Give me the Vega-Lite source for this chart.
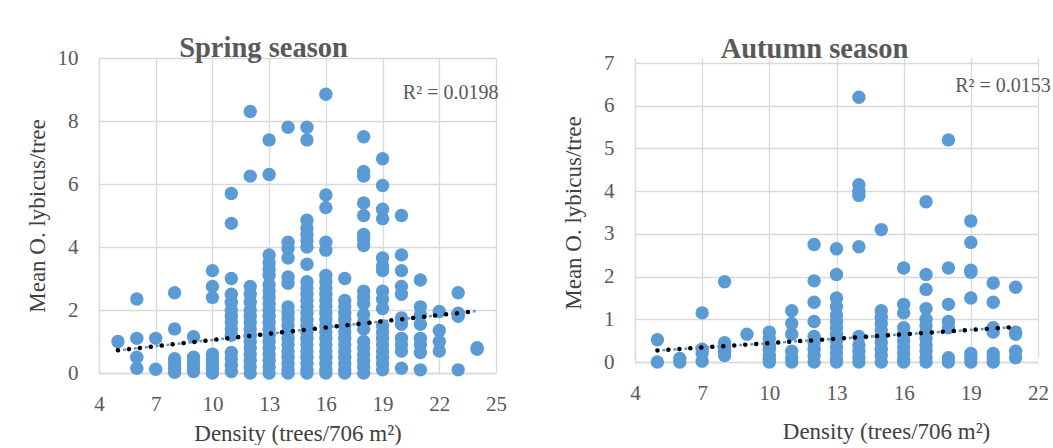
{
  "$schema": "https://vega.github.io/schema/vega-lite/v6.json",
  "background": "white",
  "padding": {"left": 26, "top": 33, "right": 0, "bottom": 0},
  "spacing": 55,
  "config": {
    "font": "Liberation Serif",
    "view": {"stroke": null},
    "axis": {
      "grid": true, "gridColor": "#d9d9d9", "gridWidth": 1.3,
      "domainColor": "#d9d9d9", "domainWidth": 1.3, "ticks": false, "labelFlush": false,
      "labelFont": "Liberation Serif", "labelFontSize": 21, "labelColor": "#595959",
      "titleFont": "Liberation Serif", "titleFontSize": 23, "titleFontWeight": "normal", "titleColor": "#404040"
    },
    "title": {"font": "Liberation Serif", "fontSize": 28.5, "fontWeight": "bold", "color": "#595959"}
  },
  "datasets": {
    "spring": [
      {"x":5,"y":1.0},
      {"x":6,"y":2.35},{"x":6,"y":1.1},{"x":6,"y":0.5},{"x":6,"y":0.15},
      {"x":7,"y":1.1},{"x":7,"y":0.12},
      {"x":8,"y":2.55},{"x":8,"y":1.4},{"x":8,"y":0.45},{"x":8,"y":0.3},{"x":8,"y":0.15},{"x":8,"y":0.02},
      {"x":9,"y":1.15},{"x":9,"y":0.5},{"x":9,"y":0.35},{"x":9,"y":0.2},{"x":9,"y":0.05},
      {"x":10,"y":3.25},{"x":10,"y":2.75},{"x":10,"y":2.4},{"x":10,"y":0.6},{"x":10,"y":0.45},{"x":10,"y":0.3},{"x":10,"y":0.15},{"x":10,"y":0.0},
      {"x":11,"y":5.7},{"x":11,"y":4.75},{"x":11,"y":3.0},{"x":11,"y":2.5},{"x":11,"y":2.25},{"x":11,"y":2.0},{"x":11,"y":1.8},{"x":11,"y":1.6},{"x":11,"y":1.4},{"x":11,"y":1.2},{"x":11,"y":0.65},{"x":11,"y":0.45},{"x":11,"y":0.25},{"x":11,"y":0.05},
      {"x":12,"y":8.3},{"x":12,"y":6.25},{"x":12,"y":2.75},{"x":12,"y":2.5},{"x":12,"y":2.25},{"x":12,"y":2.0},{"x":12,"y":1.8},{"x":12,"y":1.6},{"x":12,"y":1.4},{"x":12,"y":1.2},{"x":12,"y":1.0},{"x":12,"y":0.8},{"x":12,"y":0.6},{"x":12,"y":0.4},{"x":12,"y":0.2},{"x":12,"y":0.0},
      {"x":13,"y":7.4},{"x":13,"y":6.3},{"x":13,"y":3.75},{"x":13,"y":3.5},{"x":13,"y":3.3},{"x":13,"y":3.1},{"x":13,"y":2.8},{"x":13,"y":2.6},{"x":13,"y":2.4},{"x":13,"y":2.2},{"x":13,"y":2.0},{"x":13,"y":1.8},{"x":13,"y":1.6},{"x":13,"y":1.4},{"x":13,"y":1.2},{"x":13,"y":1.0},{"x":13,"y":0.8},{"x":13,"y":0.6},{"x":13,"y":0.4},{"x":13,"y":0.2},{"x":13,"y":0.0},
      {"x":14,"y":7.8},{"x":14,"y":4.15},{"x":14,"y":3.95},{"x":14,"y":3.65},{"x":14,"y":3.05},{"x":14,"y":2.85},{"x":14,"y":2.1},{"x":14,"y":1.9},{"x":14,"y":1.7},{"x":14,"y":1.5},{"x":14,"y":1.3},{"x":14,"y":1.1},{"x":14,"y":0.9},{"x":14,"y":0.7},{"x":14,"y":0.5},{"x":14,"y":0.3},{"x":14,"y":0.1},{"x":14,"y":0.0},
      {"x":15,"y":7.8},{"x":15,"y":7.4},{"x":15,"y":4.85},{"x":15,"y":4.6},{"x":15,"y":4.4},{"x":15,"y":4.2},{"x":15,"y":4.0},{"x":15,"y":3.45},{"x":15,"y":2.9},{"x":15,"y":2.7},{"x":15,"y":2.5},{"x":15,"y":2.3},{"x":15,"y":2.1},{"x":15,"y":1.9},{"x":15,"y":1.7},{"x":15,"y":1.5},{"x":15,"y":1.3},{"x":15,"y":1.1},{"x":15,"y":0.9},{"x":15,"y":0.7},{"x":15,"y":0.5},{"x":15,"y":0.3},{"x":15,"y":0.1},{"x":15,"y":0.0},
      {"x":16,"y":8.85},{"x":16,"y":5.65},{"x":16,"y":5.25},{"x":16,"y":4.15},{"x":16,"y":3.9},{"x":16,"y":3.1},{"x":16,"y":2.9},{"x":16,"y":2.7},{"x":16,"y":2.5},{"x":16,"y":2.3},{"x":16,"y":2.1},{"x":16,"y":1.9},{"x":16,"y":1.7},{"x":16,"y":1.5},{"x":16,"y":1.3},{"x":16,"y":1.1},{"x":16,"y":0.9},{"x":16,"y":0.7},{"x":16,"y":0.5},{"x":16,"y":0.3},{"x":16,"y":0.1},{"x":16,"y":0.0},
      {"x":17,"y":3.0},{"x":17,"y":2.3},{"x":17,"y":2.1},{"x":17,"y":1.9},{"x":17,"y":1.7},{"x":17,"y":1.5},{"x":17,"y":1.3},{"x":17,"y":1.1},{"x":17,"y":0.9},{"x":17,"y":0.7},{"x":17,"y":0.5},{"x":17,"y":0.3},{"x":17,"y":0.1},{"x":17,"y":0.0},
      {"x":18,"y":7.5},{"x":18,"y":6.4},{"x":18,"y":6.25},{"x":18,"y":5.4},{"x":18,"y":5.0},{"x":18,"y":4.4},{"x":18,"y":4.25},{"x":18,"y":4.05},{"x":18,"y":2.6},{"x":18,"y":2.4},{"x":18,"y":2.2},{"x":18,"y":1.85},{"x":18,"y":1.6},{"x":18,"y":1.4},{"x":18,"y":1.0},{"x":18,"y":0.8},{"x":18,"y":0.6},{"x":18,"y":0.4},{"x":18,"y":0.2},{"x":18,"y":0.0},
      {"x":19,"y":6.8},{"x":19,"y":5.95},{"x":19,"y":5.2},{"x":19,"y":4.9},{"x":19,"y":3.65},{"x":19,"y":3.4},{"x":19,"y":3.25},{"x":19,"y":2.6},{"x":19,"y":2.35},{"x":19,"y":2.05},{"x":19,"y":1.5},{"x":19,"y":1.3},{"x":19,"y":1.1},{"x":19,"y":0.9},{"x":19,"y":0.7},{"x":19,"y":0.5},{"x":19,"y":0.3},{"x":19,"y":0.1},
      {"x":20,"y":5.0},{"x":20,"y":3.75},{"x":20,"y":3.25},{"x":20,"y":2.75},{"x":20,"y":2.5},{"x":20,"y":1.75},{"x":20,"y":1.55},{"x":20,"y":1.1},{"x":20,"y":0.9},{"x":20,"y":0.7},{"x":20,"y":0.15},
      {"x":21,"y":2.95},{"x":21,"y":2.1},{"x":21,"y":1.85},{"x":21,"y":1.55},{"x":21,"y":1.1},{"x":21,"y":0.9},{"x":21,"y":0.65},{"x":21,"y":0.1},
      {"x":22,"y":1.95},{"x":22,"y":1.35},{"x":22,"y":1.0},{"x":22,"y":0.7},
      {"x":23,"y":2.55},{"x":23,"y":1.9},{"x":23,"y":1.8},{"x":23,"y":0.1},
      {"x":24,"y":0.8},{"x":24,"y":0.75}
    ],
    "autumn": [
      {"x":5,"y":0.52},{"x":5,"y":0.0},
      {"x":6,"y":0.08},{"x":6,"y":0.0},
      {"x":7,"y":1.15},{"x":7,"y":0.3},{"x":7,"y":0.2},{"x":7,"y":0.02},
      {"x":8,"y":1.88},{"x":8,"y":0.45},{"x":8,"y":0.35},{"x":8,"y":0.25},{"x":8,"y":0.15},
      {"x":9,"y":0.65},
      {"x":10,"y":0.7},{"x":10,"y":0.55},{"x":10,"y":0.4},{"x":10,"y":0.3},{"x":10,"y":0.15},{"x":10,"y":0.05},{"x":10,"y":0.0},
      {"x":11,"y":1.2},{"x":11,"y":0.9},{"x":11,"y":0.65},{"x":11,"y":0.25},{"x":11,"y":0.1},{"x":11,"y":0.0},
      {"x":12,"y":2.75},{"x":12,"y":1.9},{"x":12,"y":1.4},{"x":12,"y":0.95},{"x":12,"y":0.6},{"x":12,"y":0.45},{"x":12,"y":0.3},{"x":12,"y":0.15},{"x":12,"y":0.0},
      {"x":13,"y":2.65},{"x":13,"y":2.05},{"x":13,"y":1.5},{"x":13,"y":1.3},{"x":13,"y":1.1},{"x":13,"y":0.95},{"x":13,"y":0.8},{"x":13,"y":0.65},{"x":13,"y":0.5},{"x":13,"y":0.35},{"x":13,"y":0.2},{"x":13,"y":0.05},{"x":13,"y":0.0},
      {"x":14,"y":6.2},{"x":14,"y":4.15},{"x":14,"y":4.0},{"x":14,"y":3.9},{"x":14,"y":2.7},{"x":14,"y":0.6},{"x":14,"y":0.4},{"x":14,"y":0.25},{"x":14,"y":0.1},{"x":14,"y":0.0},
      {"x":15,"y":3.1},{"x":15,"y":1.2},{"x":15,"y":1.05},{"x":15,"y":0.9},{"x":15,"y":0.75},{"x":15,"y":0.6},{"x":15,"y":0.45},{"x":15,"y":0.3},{"x":15,"y":0.15},{"x":15,"y":0.0},
      {"x":16,"y":2.2},{"x":16,"y":1.35},{"x":16,"y":1.15},{"x":16,"y":0.8},{"x":16,"y":0.65},{"x":16,"y":0.5},{"x":16,"y":0.35},{"x":16,"y":0.2},{"x":16,"y":0.05},{"x":16,"y":0.0},
      {"x":17,"y":3.75},{"x":17,"y":2.05},{"x":17,"y":1.7},{"x":17,"y":1.25},{"x":17,"y":1.0},{"x":17,"y":0.85},{"x":17,"y":0.7},{"x":17,"y":0.55},{"x":17,"y":0.4},{"x":17,"y":0.25},{"x":17,"y":0.1},{"x":17,"y":0.0},
      {"x":18,"y":5.2},{"x":18,"y":2.2},{"x":18,"y":1.35},{"x":18,"y":0.95},{"x":18,"y":0.8},{"x":18,"y":0.1},{"x":18,"y":0.0},
      {"x":19,"y":3.3},{"x":19,"y":2.8},{"x":19,"y":2.15},{"x":19,"y":2.1},{"x":19,"y":1.5},{"x":19,"y":0.2},{"x":19,"y":0.1},{"x":19,"y":0.0},
      {"x":20,"y":1.85},{"x":20,"y":1.4},{"x":20,"y":0.8},{"x":20,"y":0.7},{"x":20,"y":0.2},{"x":20,"y":0.1},{"x":20,"y":0.0},
      {"x":21,"y":1.75},{"x":21,"y":0.7},{"x":21,"y":0.65},{"x":21,"y":0.25},{"x":21,"y":0.1}
    ],
    "springTrend": [{"x":5,"y":0.72},{"x":24,"y":1.97}],
    "autumnTrend": [{"x":5,"y":0.27},{"x":21,"y":0.82}],
    "springR2": [{"x":22.6,"y":8.9,"label":"R² = 0.0198"}],
    "autumnR2": [{"x":18.3,"y":6.46,"label":"R² = 0.0153"}]
  },
  "hconcat": [
    {
      "width": 397, "height": 315,
      "title": {"text": "Spring season", "dx": -34, "offset": -15},
      "encoding": {
        "x": {"field": "x", "type": "quantitative", "scale": {"domain": [4, 25], "nice": false, "zero": false},
              "axis": {"values": [4,7,10,13,16,19,22,25], "title": "Density (trees/706 m²)", "labelPadding": 20, "titlePadding": 8}},
        "y": {"field": "y", "type": "quantitative", "scale": {"domain": [0, 10], "nice": false},
              "axis": {"values": [0,2,4,6,8,10], "title": "Mean O. lybicus/tree", "labelPadding": 21, "titlePadding": 8}}
      },
      "layer": [
        {"data": {"name": "spring"}, "mark": {"type": "circle", "size": 180, "color": "#5b9bd5", "opacity": 1}},
        {"data": {"name": "springTrend"}, "mark": {"type": "line", "color": "#5b9bd5", "strokeWidth": 2.5, "strokeDash": [3, 8], "strokeDashOffset": -5}},
        {"data": {"name": "springTrend"}, "mark": {"type": "line", "color": "#000000", "strokeWidth": 4.5, "strokeCap": "round", "strokeDash": [0.1, 10.9]}},
        {"data": {"name": "springR2"}, "mark": {"type": "text", "font": "Liberation Serif", "fontSize": 20, "color": "#595959", "align": "center", "baseline": "middle"},
         "encoding": {"text": {"field": "label"}}}
      ]
    },
    {
      "width": 403, "height": 304,
      "title": {"text": "Autumn season", "dx": -22, "offset": -11},
      "encoding": {
        "x": {"field": "x", "type": "quantitative", "scale": {"domain": [4, 22], "nice": false, "zero": false},
              "axis": {"values": [4,7,10,13,16,19,22], "title": "Density (trees/706 m²)", "labelPadding": 20, "titlePadding": 17, "titleX": 251}},
        "y": {"field": "y", "type": "quantitative", "scale": {"domain": [0, 7], "nice": false, "range": [304, 5]},
              "axis": {"values": [0,1,2,3,4,5,6,7], "title": "Mean O. lybicus/tree", "labelPadding": 21, "titlePadding": 18}}
      },
      "layer": [
        {"data": {"name": "autumn"}, "mark": {"type": "circle", "size": 180, "color": "#5b9bd5", "opacity": 1}},
        {"data": {"name": "autumnTrend"}, "mark": {"type": "line", "color": "#5b9bd5", "strokeWidth": 2.5, "strokeDash": [3, 8], "strokeDashOffset": -5}},
        {"data": {"name": "autumnTrend"}, "mark": {"type": "line", "color": "#000000", "strokeWidth": 4.5, "strokeCap": "round", "strokeDash": [0.1, 10.9]}},
        {"data": {"name": "autumnR2"}, "mark": {"type": "text", "font": "Liberation Serif", "fontSize": 20, "color": "#595959", "align": "left", "baseline": "middle"},
         "encoding": {"text": {"field": "label"}}}
      ]
    }
  ]
}
